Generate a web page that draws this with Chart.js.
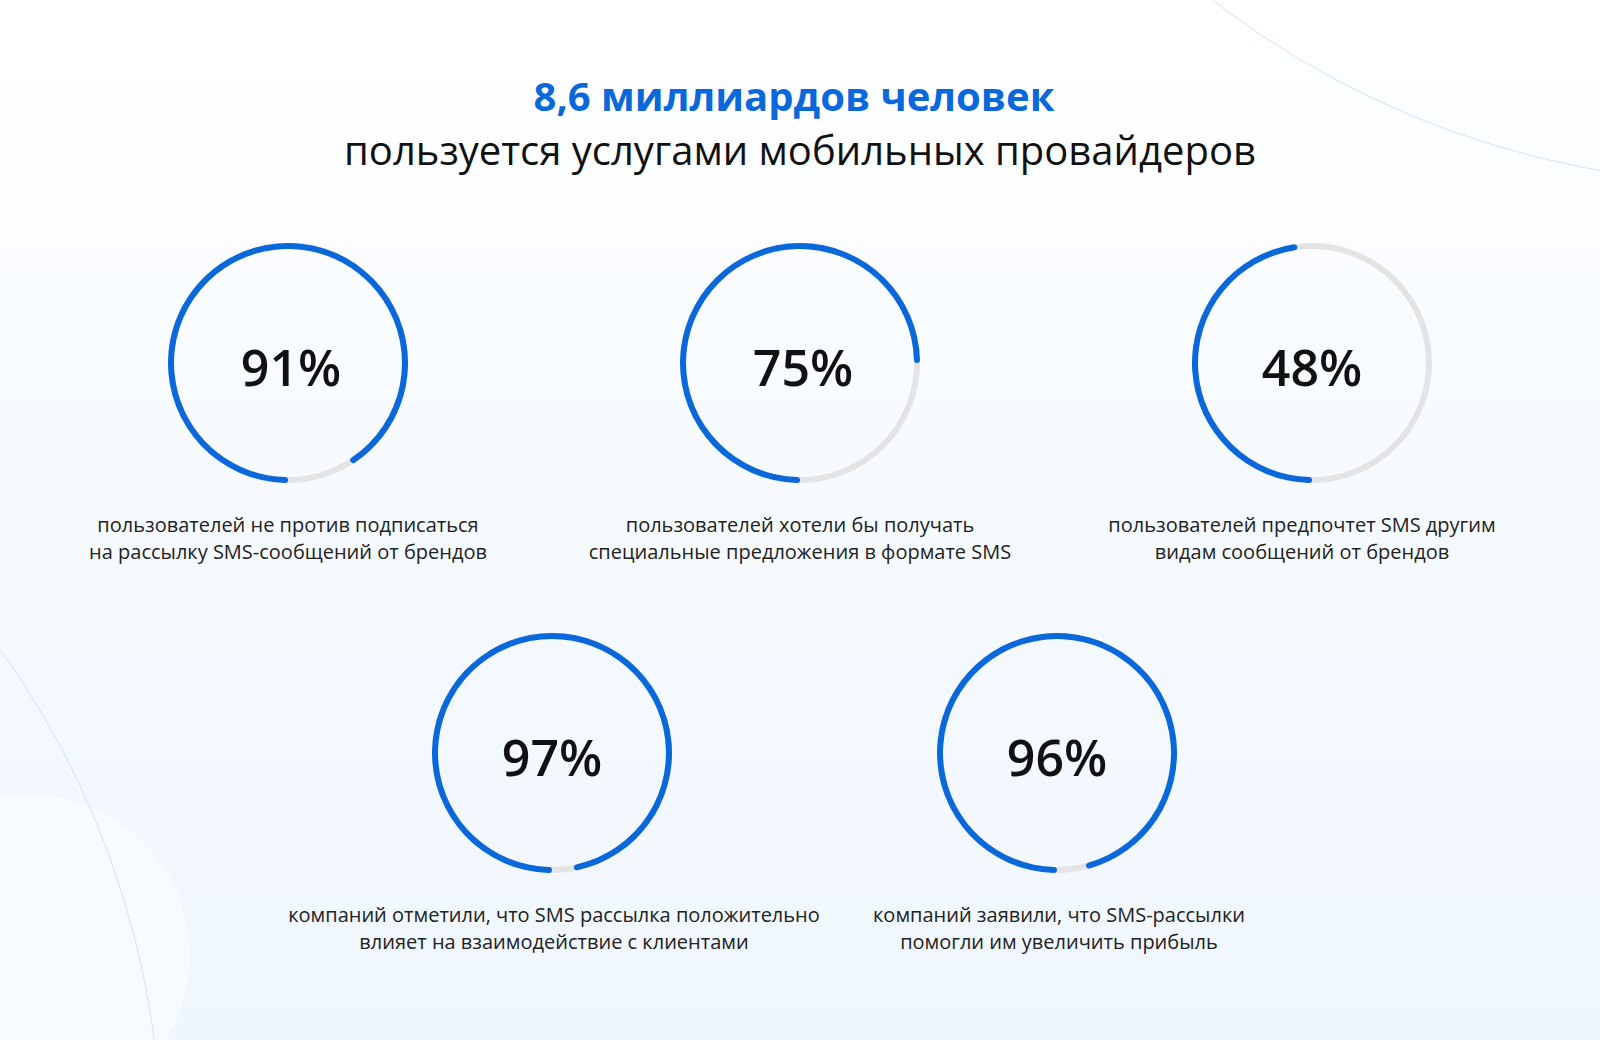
<!DOCTYPE html>
<html lang="ru">
<head>
<meta charset="utf-8">
<title>SMS</title>
<script src="https://cdn.jsdelivr.net/npm/chart.js"></script>
<style>
  html, body {
    margin: 0;
    padding: 0;
    width: 1600px;
    height: 1040px;
    overflow: hidden;
    font-family: "Open Sans", "Noto Sans", sans-serif;
  }
  body {
    position: relative;
    background: linear-gradient(180deg, #ffffff 0%, #f7fbff 40%, #eff6fd 100%);
  }
  .deco {
    position: absolute;
    border-radius: 50%;
  }
  .title {
    position: absolute;
    left: 0;
    width: 1600px;
    text-align: center;
    font-size: 40px;
    line-height: 52px;
  }
  .title.main { top: 70px; left: -6px; color: #0a68db; font-weight: 700; }
  .title.sub { top: 124px; color: #111; font-weight: 400; }
  .ring {
    position: absolute;
    width: 240px;
    height: 240px;
  }
  .ring canvas { display: block; }
  .pct {
    position: absolute;
    top: 0;
    width: 240px;
    height: 240px;
    line-height: 248px;
    text-align: center;
    font-size: 50px;
    font-weight: 600;
    color: #111;
  }
  .caption {
    position: absolute;
    width: 600px;
    text-align: center;
    font-size: 20px;
    line-height: 27px;
    color: #222;
  }
</style>
</head>
<body>
<div class="deco" style="left:868px;top:-1582px;width:1764px;height:1764px;border:1.5px solid #cfe3fb;"></div>
<div class="deco" style="left:-130px;top:795px;width:320px;height:320px;background:#f8fbff;"></div>
<div class="deco" style="left:-1560px;top:290px;width:1720px;height:1720px;border:1.5px solid #cfe3fb;"></div>

<div class="title main">8,6 миллиардов человек</div>
<div class="title sub">пользуется услугами мобильных провайдеров</div>

<script>
const values = [91, 75, 48, 97, 96];
const captions = [
  ["пользователей не против подписаться", "на рассылку SMS-сообщений от брендов"],
  ["пользователей хотели бы получать", "специальные предложения в формате SMS"],
  ["пользователей предпочтет SMS другим", "видам сообщений от брендов"],
  ["компаний отметили, что SMS рассылка положительно", "влияет на взаимодействие с клиентами"],
  ["компаний заявили, что SMS-рассылки", "помогли им увеличить прибыль"],
];

// layout: ring centres, and small nudges for the centre label / caption
const centers = [
  [288, 363], [800, 363], [1312, 363],
  [552, 753], [1057, 753],
];
const labelShift = [3, 3, 0, 0, 0];
const captionShift = [0, 0, -10, 2, 2];

const blue = "#0a68db";
const grey = "#e4e4e4";

// grey track under the blue arc, sized from the chart's own arc geometry
const trackPlugin = {
  id: "track",
  beforeDatasetsDraw(chart) {
    const arc = chart.getDatasetMeta(0).data[0];
    if (!arc) return;
    const { x, y, innerRadius, outerRadius } = arc.getProps(["x", "y", "innerRadius", "outerRadius"], true);
    const ctx = chart.ctx;
    ctx.save();
    ctx.beginPath();
    ctx.arc(x, y, (innerRadius + outerRadius) / 2, 0, Math.PI * 2);
    ctx.lineWidth = outerRadius - innerRadius;
    ctx.strokeStyle = grey;
    ctx.stroke();
    ctx.restore();
  },
};

values.forEach((v, i) => {
  const [cx, cy] = centers[i];

  const box = document.createElement("div");
  box.className = "ring";
  box.style.left = (cx - 120) + "px";
  box.style.top = (cy - 120) + "px";

  const canvas = document.createElement("canvas");
  canvas.width = 240;
  canvas.height = 240;
  box.appendChild(canvas);

  const label = document.createElement("div");
  label.className = "pct";
  label.style.left = labelShift[i] + "px";
  label.textContent = v + "%";
  box.appendChild(label);

  document.body.appendChild(box);

  const cap = document.createElement("div");
  cap.className = "caption";
  cap.style.left = (cx - 300 + captionShift[i]) + "px";
  cap.style.top = (cy + 148) + "px";
  cap.innerHTML = captions[i].join("<br>");
  document.body.appendChild(cap);

  new Chart(canvas.getContext("2d"), {
    type: "doughnut",
    data: {
      labels: ["да", "нет"],
      datasets: [{
        data: [v, 100 - v],
        backgroundColor: [blue, "rgba(0,0,0,0)"],
        borderWidth: 0,
        borderRadius: [3, 0],
      }],
    },
    options: {
      responsive: false,
      animation: false,
      events: [],
      rotation: 180,
      cutout: "95%",
      plugins: {
        legend: { display: false },
        tooltip: { enabled: false },
      },
    },
    plugins: [trackPlugin],
  });
});
</script>
</body>
</html>
